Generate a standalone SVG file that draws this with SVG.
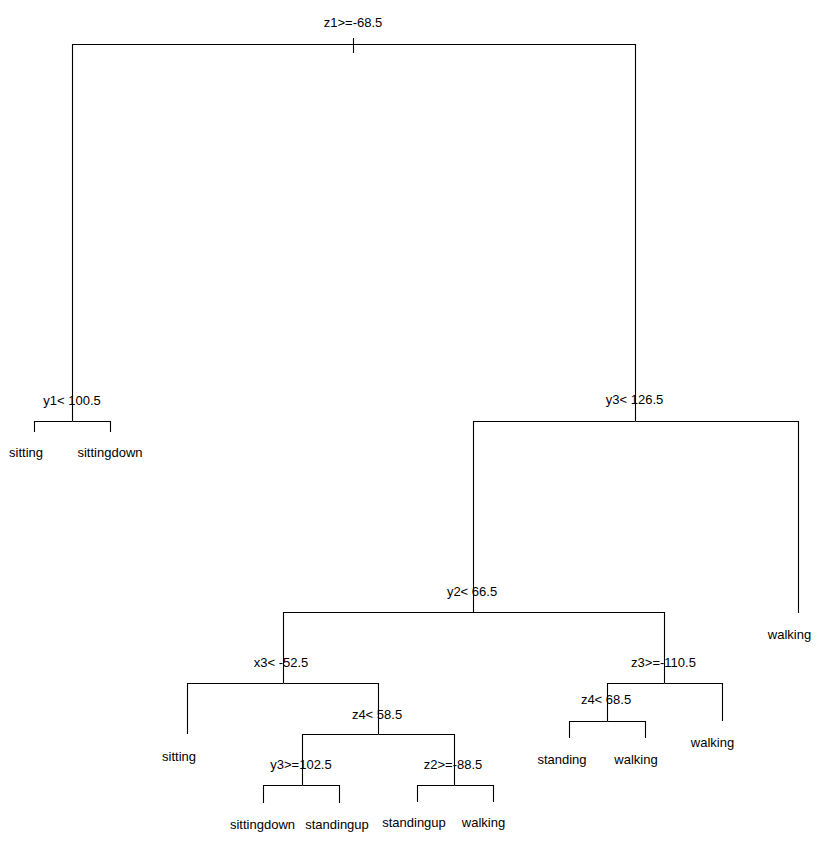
<svg xmlns="http://www.w3.org/2000/svg" width="823" height="847" viewBox="0 0 823 847">
<style>
text{font-family:"Liberation Sans",Arial,sans-serif;font-size:13px;fill:#000;text-anchor:middle}
.e{fill:none;stroke:#000;stroke-width:1.1}
</style>
<rect width="823" height="847" fill="#fff"/>
<g id="connectors">
<path class="e" d="M353.5,38 V53"/>
<path class="e" d="M353.5,44.5 H72.5 V421"/>
<path class="e" d="M353.5,44.5 H635.5 V421"/>
<path class="e" d="M72.5,421.5 H34.5 V432"/>
<path class="e" d="M72.5,421.5 H110.5 V432"/>
<path class="e" d="M635.5,421.5 H473.5 V613"/>
<path class="e" d="M635.5,421.5 H798.5 V613"/>
<path class="e" d="M473.5,612.5 H283.5 V683"/>
<path class="e" d="M473.5,612.5 H664.5 V683"/>
<path class="e" d="M283.5,683.5 H187.5 V734"/>
<path class="e" d="M283.5,683.5 H378.5 V734"/>
<path class="e" d="M378.5,734.5 H302.5 V785"/>
<path class="e" d="M378.5,734.5 H454.5 V785"/>
<path class="e" d="M302.5,785.5 H263.5 V803"/>
<path class="e" d="M302.5,785.5 H339.5 V803"/>
<path class="e" d="M454.5,785.5 H417.5 V802"/>
<path class="e" d="M454.5,785.5 H493.5 V802"/>
<path class="e" d="M664.5,683.5 H607.5 V721"/>
<path class="e" d="M664.5,683.5 H722.5 V721"/>
<path class="e" d="M607.5,721.5 H569.5 V738"/>
<path class="e" d="M607.5,721.5 H645.5 V738"/>
</g>
<g id="n1"><text x="353" y="27">z1&gt;=-68.5</text></g>
<g id="n2"><text x="72" y="405">y1&lt; 100.5</text></g>
<g id="n4"><text x="26" y="457">sitting</text></g>
<g id="n5"><text x="110" y="457">sittingdown</text></g>
<g id="n3"><text x="634.5" y="404">y3&lt; 126.5</text></g>
<g id="n6"><text x="472" y="596">y2&lt; 66.5</text></g>
<g id="n7"><text x="789.5" y="639">walking</text></g>
<g id="n12"><text x="281" y="667">x3&lt; -52.5</text></g>
<g id="n13"><text x="663.5" y="667">z3&gt;=-110.5</text></g>
<g id="n24"><text x="179" y="761">sitting</text></g>
<g id="n25"><text x="377" y="719">z4&lt; 58.5</text></g>
<g id="n50"><text x="301" y="769">y3&gt;=102.5</text></g>
<g id="n51"><text x="453" y="769">z2&gt;=-88.5</text></g>
<g id="n100"><text x="262.5" y="829">sittingdown</text></g>
<g id="n101"><text x="337" y="829">standingup</text></g>
<g id="n102"><text x="414" y="827">standingup</text></g>
<g id="n103"><text x="483.5" y="827">walking</text></g>
<g id="n26"><text x="606" y="704">z4&lt; 68.5</text></g>
<g id="n27"><text x="712.5" y="747">walking</text></g>
<g id="n52"><text x="562" y="764">standing</text></g>
<g id="n53"><text x="636" y="764">walking</text></g>
</svg>
